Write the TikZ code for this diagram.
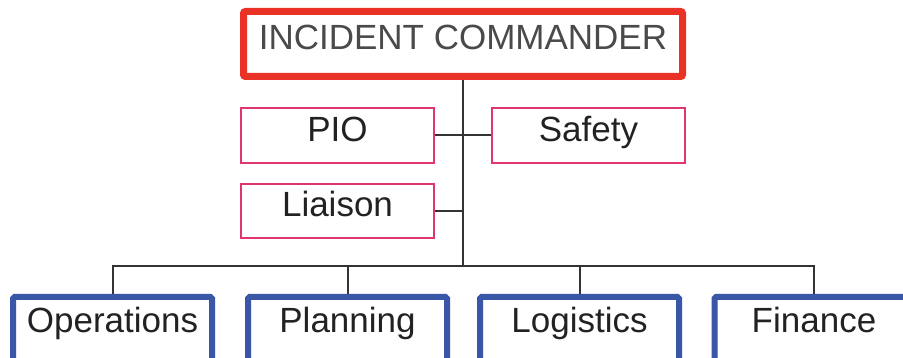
\documentclass[tikz,border=0pt]{standalone}
\usepackage{fontspec}
\setmainfont{Liberation Sans}
\definecolor{icred}{HTML}{EA3326}
\definecolor{staffpink}{HTML}{E0356E}
\definecolor{secblue}{HTML}{3A56A6}
\definecolor{linegray}{HTML}{333333}
\definecolor{txtgray}{HTML}{4A4A4A}
\definecolor{txtdark}{HTML}{222222}
\begin{document}
\begin{tikzpicture}[x=1pt,y=-1pt,
  boxtext/.style={inner sep=0pt,text height=24pt,text depth=12pt,font=\fontsize{35}{40}\selectfont},
  icbox/.style={boxtext,draw=icred,line width=7pt,rounded corners=2pt,fill=white,minimum width=439pt,minimum height=65pt,text=txtgray},
  staffbox/.style={boxtext,draw=staffpink,line width=1.8pt,fill=white,minimum width=193pt,minimum height=55pt,text=txtdark},
  secbox/.style={boxtext,text height=18pt,text depth=18pt,draw=secblue,line width=6pt,rounded corners=1.5pt,fill=white,minimum width=199pt,minimum height=70pt,text=txtdark},
  link/.style={draw=linegray,line width=2pt}]
\useasboundingbox (0,0) rectangle (903,358);
\clip (0,0) rectangle (903,358);
\fill[white] (0,0) rectangle (903,358);
\node[icbox] (ic) at (463,44) {INCIDENT COMMANDER};
\node[staffbox] (pio) at (337.5,135.5) {PIO};
\node[staffbox] (safety) at (588.5,135.5) {Safety};
\node[staffbox,minimum height=54pt] (liaison) at (337.5,211) {Liaison};
\node[secbox] (ops) at (112.5,332) {Operations};
\node[secbox] (plan) at (347.5,332) {Planning};
\node[secbox] (log) at (579.5,332) {Logistics};
\node[secbox] (fin) at (814,332) {Finance};
\coordinate (bus) at (463,266);
\draw[link] (ic.south) -- (bus);
\draw[link] (pio.east) -- (safety.west);
\draw[link] (liaison.east) -- (liaison.east -| bus);
\draw[link] (ops.north) |- (fin.north |- bus) -- (fin.north);
\draw[link] (plan.north) -- (plan.north |- bus);
\draw[link] (log.north) -- (log.north |- bus);
\end{tikzpicture}
\end{document}
